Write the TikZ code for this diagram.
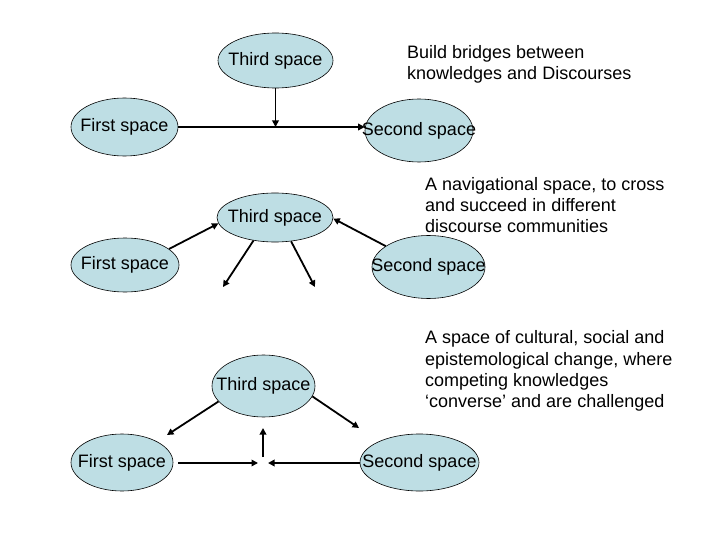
\documentclass[tikz,border=0pt]{standalone}
\usepackage{fontspec}
\setmainfont{Liberation Sans}
\usetikzlibrary{shapes.geometric,arrows.meta}
\definecolor{ellfill}{RGB}{190,222,228}
\newcommand{\ztxt}[1]{\makebox[0pt]{#1}}
\begin{document}
\begin{tikzpicture}[x=1pt,y=-1pt,
  space/.style={ellipse,draw=black,line width=0.6pt,fill=ellfill,inner sep=0pt,
    font=\fontsize{18}{21.3}\selectfont},
  arr/.style={line width=1.8pt,-{Triangle[length=6.5pt,width=6.5pt]}},
  note/.style={anchor=west,align=left,inner sep=0pt,font=\fontsize{18}{21.3}\selectfont}]
\useasboundingbox (0,0) rectangle (720,540);
\fill[white] (0,0) rectangle (720,540);

% top row
\node[space,minimum width=115pt,minimum height=55pt] (t1) at (275.5,60.5) {\ztxt{Third space}};
\node[space,minimum width=107pt,minimum height=58pt] (f1) at (124.5,127) {\ztxt{First space}};
\node[space,minimum width=108pt,minimum height=63pt] (s1) at (419,130.5) {\ztxt{Second space}};

% middle row
\node[space,minimum width=116pt,minimum height=49pt] (t2) at (275,217.5) {\ztxt{Third space}};
\node[space,minimum width=108pt,minimum height=54pt] (f2) at (125,265) {\ztxt{First space}};
\node[space,minimum width=113pt,minimum height=63pt] (s2) at (428.5,267) {\ztxt{Second space}};

% bottom row
\node[space,minimum width=103pt,minimum height=62pt] (t3) at (263.5,386) {\ztxt{Third space}};
\node[space,minimum width=102pt,minimum height=57pt] (f3) at (122,462.5) {\ztxt{First space}};
\node[space,minimum width=119pt,minimum height=57pt] (s3) at (419.5,462.5) {\ztxt{Second space}};

% notes
\node[note] (n1) at (407,64.5) {Build bridges between\\knowledges and Discourses};
\node[note] (n2) at (425,205) {A navigational space, to cross\\and succeed in different\\discourse communities};
\node[note] (n3) at (425,371) {A space of cultural, social and\\epistemological change, where\\competing knowledges\\‘converse’ and are challenged};

% top connectors
\coordinate (j1) at (t1.south |- f1.east);
\draw[arr] (f1.east) -- (f1.east -| s1.west);
\draw[arr] (t1.south) -- (j1);

% middle connectors
\coordinate (m1) at (223,287);
\coordinate (m2) at (315,287);
\draw[arr] (f2.20) -- (t2.186);
\draw[arr] (s2.154) -- (t2.359);
\draw[arr] (t2.227) -- (m1);
\draw[arr] (t2.304) -- (m2);

% bottom connectors
\coordinate (b1) at (167,435);
\coordinate (b2) at (359,428);
\coordinate (b3) at (258,463);
\coordinate (b4) at (268,463);
\coordinate (u0) at (263,457);
\coordinate (u1) at (263,428);
\draw[arr] (t3.199) -- (b1);
\draw[arr] (t3.348) -- (b2);
\draw[arr,shorten <=5pt] (b3 -| f3.east) -- (b3);
\draw[arr] (b4 -| s3.west) -- (b4);
\draw[arr] (u0) -- (u1);
\end{tikzpicture}
\end{document}
